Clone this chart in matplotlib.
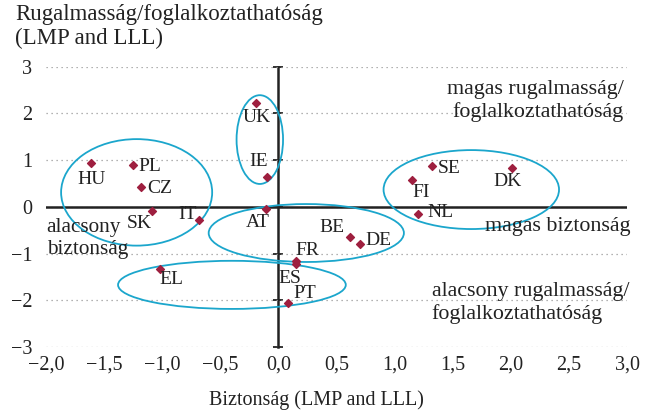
import matplotlib.pyplot as plt
from matplotlib.patches import Ellipse

plt.rcParams['font.family'] = ['Liberation Serif', 'DejaVu Serif']

# Országok: biztonság (x) és rugalmasság/foglalkoztathatóság (y)
countries = ["HU", "PL", "CZ", "UK", "IE", "SK", "IT", "AT", "FR", "ES",
             "EL", "PT", "SE", "DK", "FI", "NL", "BE", "DE"]
security = [-1.61, -1.25, -1.18, -0.19, -0.10, -1.09, -0.68, -0.11, 0.15, 0.15,
            -1.02, 0.08, 1.32, 2.01, 1.15, 1.20, 0.62, 0.70]
flexibility = [0.94, 0.89, 0.43, 2.23, 0.64, -0.09, -0.28, -0.04, -1.15, -1.23,
               -1.32, -2.06, 0.87, 0.83, 0.58, -0.15, -0.64, -0.79]

# címke eltolás (pont), igazítás
label_pos = {
    "HU": (0, -12, "center"), "PL": (4, -1, "left"), "CZ": (4, -1, "left"),
    "UK": (0, -11, "center"), "IE": (-6, 11, "center"), "SK": (0, -9, "right"),
    "IT": (-2, 4, "right"), "AT": (-6, -10, "center"), "FR": (0, 7, "left"),
    "ES": (-4, -10, "center"), "EL": (0, -8, "left"), "PT": (4, 7, "left"),
    "SE": (4, -2, "left"), "DK": (-3, -10, "center"), "FI": (0, -9, "left"),
    "NL": (7, 1, "left"), "BE": (-4, 7, "right"), "DE": (4, 2, "left"),
}

# csoportok ellipszisei: középpont, szélesség, magasság
groups_center = [(-1.22, 0.31), (-0.16, 1.44), (0.24, -0.56), (-0.40, -1.67), (1.66, 0.37)]
groups_width = [1.30, 0.40, 1.68, 1.96, 1.51]
groups_height = [2.28, 1.90, 1.24, 1.03, 1.69]

xticks = [-2.0, -1.5, -1.0, -0.5, 0.0, 0.5, 1.0, 1.5, 2.0, 2.5, 3.0]
yticks = [-3, -2, -1, 0, 1, 2, 3]

fig = plt.figure(figsize=(6.46, 4.13), dpi=100)
ax = fig.add_axes([0.0712, 0.1598, 0.8994, 0.6787])
ax.set_xlim(-2, 3)
ax.set_ylim(-3, 3)
for s in ax.spines.values():
    s.set_visible(False)

ax.set_xticks(xticks)
ax.set_xticklabels([f"{v:.1f}".replace(".", ",").replace("-", "\u2212") for v in xticks])
ax.set_yticks(yticks)
ax.set_yticklabels([str(v).replace("-", "\u2212") for v in yticks])
ax.tick_params(length=0, labelsize=14.5, colors="#222222", pad=6)
ax.tick_params(axis="y", pad=10)
ax.yaxis.grid(True, linestyle=(0, (1, 3)), color="#999999", linewidth=0.9)

ax.axhline(0, color="#222222", lw=1.8, zorder=2)
sec = ax.secondary_yaxis(0.4)
sec.spines["left"].set_linewidth(1.8)
sec.spines["left"].set_color("#222222")
sec.set_yticks(yticks)
sec.set_yticklabels([])
sec.tick_params(direction="inout", length=7, width=1.3, colors="#222222")

for c, w, h in zip(groups_center, groups_width, groups_height):
    ax.add_patch(Ellipse(c, w, h, fill=False, edgecolor="#1ba6cc", lw=1.3, zorder=3))

ax.scatter(security, flexibility, marker="D", s=16, color="#9e1f3f", zorder=4)
for name, x, y in zip(countries, security, flexibility):
    dx, dy, ha = label_pos[name]
    ax.annotate(name, (x, y), xytext=(dx, dy), textcoords="offset points",
                ha=ha, va="center", fontsize=14, color="#222222", zorder=5)

tkw = dict(fontsize=15.8, color="#222222")
ax.text(2.97, 2.27, "magas rugalmasság/\nfoglalkoztathatóság", ha="right", va="center",
        linespacing=1.2, **tkw)
ax.text(3.03, -0.43, "magas biztonság", ha="right", va="center", **tkw)
ax.text(1.32, -2.05, "alacsony rugalmasság/\nfoglalkoztathatóság", ha="left", va="center",
        linespacing=1.2, **tkw)
ax.text(-1.995, -0.68, "alacsony\nbiztonság", ha="left", va="center", linespacing=1.25,
        fontsize=15.3, color="#222222")

fig.text(0.023, 0.99, "Rugalmasság/foglalkoztathatóság\n(LMP and LLL)", ha="left", va="top",
         linespacing=1.15, fontsize=16.5, color="#222222")
fig.text(0.49, 0.03, "Biztonság (LMP and LLL)", ha="center", va="center",
         fontsize=14.5, color="#222222")

fig.savefig("out.png", dpi=100)
